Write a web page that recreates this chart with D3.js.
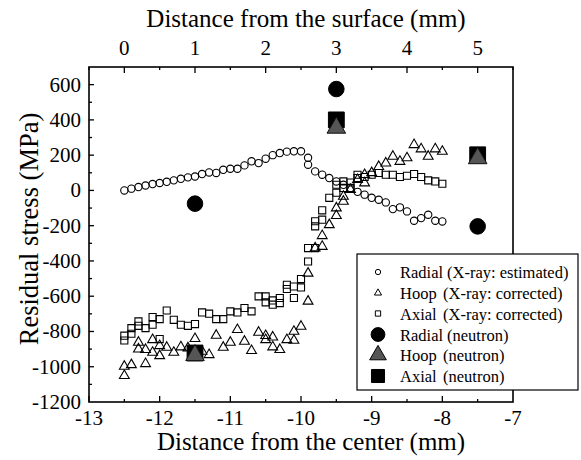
<!DOCTYPE html>
<html><head><meta charset="utf-8">
<script src="https://cdn.jsdelivr.net/npm/d3@7"></script>
<style>body{margin:0;background:#fff}svg{display:block}</style>
</head><body><svg id="c" width="581" height="460"></svg>
<script>
// ---- data (x = distance from the center in mm, y = residual stress in MPa)
const radialXray = [[-12.5,0],[-12.4,10],[-12.3,19],[-12.2,28],[-12.1,36],[-12.0,42],[-11.9,49],[-11.8,57],[-11.7,66],[-11.6,74],[-11.5,79],[-11.4,93],[-11.3,102],[-11.2,99],[-11.1,117],[-11.0,123],[-10.9,123],[-10.8,142],[-10.7,165],[-10.6,155],[-10.5,180],[-10.4,200],[-10.3,212],[-10.2,220],[-10.1,222],[-10.0,222],[-9.9,185],[-9.9,146],[-9.8,108],[-9.7,89],[-9.6,70],[-9.5,51],[-9.4,32],[-9.3,14],[-9.2,-8],[-9.1,-24],[-9.0,-42],[-8.9,-53],[-8.8,-68],[-8.7,-106],[-8.6,-96],[-8.5,-119],[-8.4,-172],[-8.3,-157],[-8.2,-138],[-8.1,-172],[-8.0,-176]];
const hoopXray = [[-12.5,-998],[-12.5,-1051],[-12.4,-989],[-12.3,-862],[-12.3,-900],[-12.2,-903],[-12.2,-983],[-12.1,-847],[-12.1,-919],[-12.0,-938],[-12.0,-881],[-11.9,-890],[-11.8,-919],[-11.7,-888],[-11.6,-894],[-11.5,-841],[-11.4,-913],[-11.3,-932],[-11.2,-822],[-11.1,-890],[-11.0,-862],[-10.9,-790],[-10.8,-856],[-10.7,-909],[-10.6,-805],[-10.5,-824],[-10.5,-847],[-10.4,-832],[-10.4,-888],[-10.3,-903],[-10.2,-847],[-10.1,-851],[-10.1,-800],[-10.0,-771],[-9.9,-629],[-9.9,-470],[-9.8,-327],[-9.7,-318],[-9.7,-257],[-9.6,-195],[-9.5,-143],[-9.5,-100],[-9.4,-62],[-9.4,-34],[-9.3,4],[-9.2,61],[-9.1,42],[-9.1,89],[-9.0,100],[-8.9,135],[-8.8,155],[-8.7,193],[-8.6,164],[-8.5,184],[-8.4,259],[-8.3,235],[-8.2,193],[-8.1,235],[-8.0,221]];
const axialXray = [[-12.5,-824],[-12.5,-851],[-12.4,-813],[-12.4,-781],[-12.3,-768],[-12.3,-743],[-12.2,-781],[-12.1,-762],[-12.1,-718],[-12.0,-730],[-12.0,-843],[-11.9,-681],[-11.8,-734],[-11.7,-762],[-11.6,-768],[-11.5,-758],[-11.4,-692],[-11.3,-699],[-11.2,-730],[-11.1,-730],[-11.0,-686],[-10.9,-692],[-10.8,-667],[-10.7,-686],[-10.6,-601],[-10.5,-601],[-10.5,-635],[-10.4,-624],[-10.4,-648],[-10.3,-610],[-10.3,-639],[-10.2,-535],[-10.2,-559],[-10.1,-610],[-10.1,-545],[-10.0,-503],[-10.0,-550],[-9.9,-403],[-9.9,-327],[-9.8,-327],[-9.8,-204],[-9.8,-175],[-9.7,-166],[-9.7,-113],[-9.6,-42],[-9.5,-13],[-9.5,32],[-9.4,51],[-9.4,14],[-9.3,45],[-9.3,14],[-9.2,89],[-9.2,70],[-9.1,76],[-9.0,89],[-8.9,99],[-8.8,89],[-8.7,89],[-8.6,76],[-8.5,83],[-8.4,93],[-8.3,76],[-8.2,57],[-8.1,51],[-8.0,38]];
const radialNeutron = [[-11.5,-75],[-9.5,575],[-7.5,-204]];
const hoopNeutron = [[-11.5,-935],[-9.5,355],[-7.5,182]];
const axialNeutron = [[-11.5,-922],[-9.5,400],[-7.5,202]];
const bottomTicks = [-13,-12,-11,-10,-9,-8,-7];
const topTicks = [0,1,2,3,4,5];
const leftTicks = [-1200,-1000,-800,-600,-400,-200,0,200,400,600];
const surfaceOffset = 12.5;
const legendLabels = [["Radial","(X-ray: estimated)"],["Hoop","(X-ray: corrected)"],["Axial","(X-ray: corrected)"],["Radial","(neutron)"],["Hoop","(neutron)"],["Axial","(neutron)"]];

// ---- layout
const FONT="'Liberation Serif', Tinos, 'Times New Roman', 'DejaVu Serif', serif";
const L=89,R=513,T=67,B=402;
const svg=d3.select("#c").attr("font-family",FONT);
const x=d3.scaleLinear().domain([-13,-7]).range([L,R]);
const xTop=d3.scaleLinear().domain([-13+surfaceOffset,-7+surfaceOffset]).range([L,R]);
const y=d3.scaleLinear().domain([-1200,700]).range([B,T]);

const ax=svg.append("g").attr("stroke","#000");
d3.range(-13,-7.01,0.5).forEach(v=>{const maj=Math.abs(v-Math.round(v))<1e-6;
  ax.append("line").attr("x1",x(v)).attr("x2",x(v)).attr("y1",B).attr("y2",B-(maj?6:3)).attr("stroke-width",1.3);});
d3.range(-0.5,5.51,0.5).forEach(v=>{const maj=Math.abs(v-Math.round(v))<1e-6;
  ax.append("line").attr("x1",xTop(v)).attr("x2",xTop(v)).attr("y1",T).attr("y2",T+(maj?6:3)).attr("stroke-width",1.3);});
d3.range(-1100,700,100).forEach(v=>{const maj=v%200===0;
  ax.append("line").attr("x1",L).attr("x2",L+(maj?5:3)).attr("y1",y(v)).attr("y2",y(v)).attr("stroke-width",1.3);});
svg.append("rect").attr("x",L).attr("y",T).attr("width",R-L).attr("height",B-T).attr("fill","none").attr("stroke","#000").attr("stroke-width",1.6);

const txt=(sel)=>sel.attr("font-family",FONT).attr("fill","#000");
txt(svg.append("g").selectAll("text").data(bottomTicks).join("text").attr("x",d=>x(d)).attr("y",425).attr("text-anchor","middle").attr("font-size",21).text(d=>d));
txt(svg.append("g").selectAll("text").data(topTicks).join("text").attr("x",d=>xTop(d)).attr("y",55).attr("text-anchor","middle").attr("font-size",21).text(d=>d));
txt(svg.append("g").selectAll("text").data(leftTicks).join("text").attr("x",81).attr("y",d=>y(d)+7).attr("text-anchor","end").attr("font-size",21).text(d=>d));

txt(svg.append("text").attr("x",306).attr("y",27).attr("text-anchor","middle").attr("font-size",25).text("Distance from the surface (mm)"));
txt(svg.append("text").attr("x",311).attr("y",450).attr("text-anchor","middle").attr("font-size",25).text("Distance from the center (mm)"));
txt(svg.append("text").attr("transform","translate(38,229) rotate(-90)").attr("text-anchor","middle").attr("font-size",26.5).text("Residual stress (MPa)"));

const sym=(type,size)=>d3.symbol().type(type).size(size)();
const plot=svg.append("g");
function drawSeries(data,type,size,fill,stroke,sw){
  plot.append("g").selectAll("path").data(data).join("path")
    .attr("transform",d=>`translate(${x(d[0])},${y(d[1])})`)
    .attr("d",sym(type,size)).attr("fill",fill).attr("stroke",stroke).attr("stroke-width",sw);
}
drawSeries(radialXray,d3.symbolCircle,42,"none","#000",1.1);
drawSeries(axialXray,d3.symbolSquare,50,"none","#000",1.1);
drawSeries(hoopXray,d3.symbolTriangle,42,"none","#000",1.1);
drawSeries(radialNeutron,d3.symbolCircle,190,"#000","#000",1);
drawSeries(axialNeutron,d3.symbolSquare,250,"#000","#000",1);
drawSeries(hoopNeutron,d3.symbolTriangle,150,"#555","#111",1);

const lg=svg.append("g");
lg.append("rect").attr("x",357).attr("y",254).attr("width",221).attr("height",136).attr("fill","#fff").attr("stroke","#000").attr("stroke-width",1.2);
const legSyms=[[d3.symbolCircle,22,"none"],[d3.symbolTriangle,22,"none"],[d3.symbolSquare,28,"none"],[d3.symbolCircle,150,"#000"],[d3.symbolTriangle,120,"#555"],[d3.symbolSquare,170,"#000"]];
const rowY=[272,293,313.5,334.5,355,376];
legendLabels.forEach((lab,i)=>{
  const s=legSyms[i];
  lg.append("path").attr("transform",`translate(378,${rowY[i]})`).attr("d",sym(s[0],s[1])).attr("fill",s[2]).attr("stroke","#000").attr("stroke-width",1);
  txt(lg.append("text").attr("x",400).attr("y",rowY[i]+6).attr("font-size",16.5).text(lab[0]));
  txt(lg.append("text").attr("x",i===0||i===3?447:443).attr("y",rowY[i]+6).attr("font-size",16.5).text(lab[1]));
});
</script></body></html>
